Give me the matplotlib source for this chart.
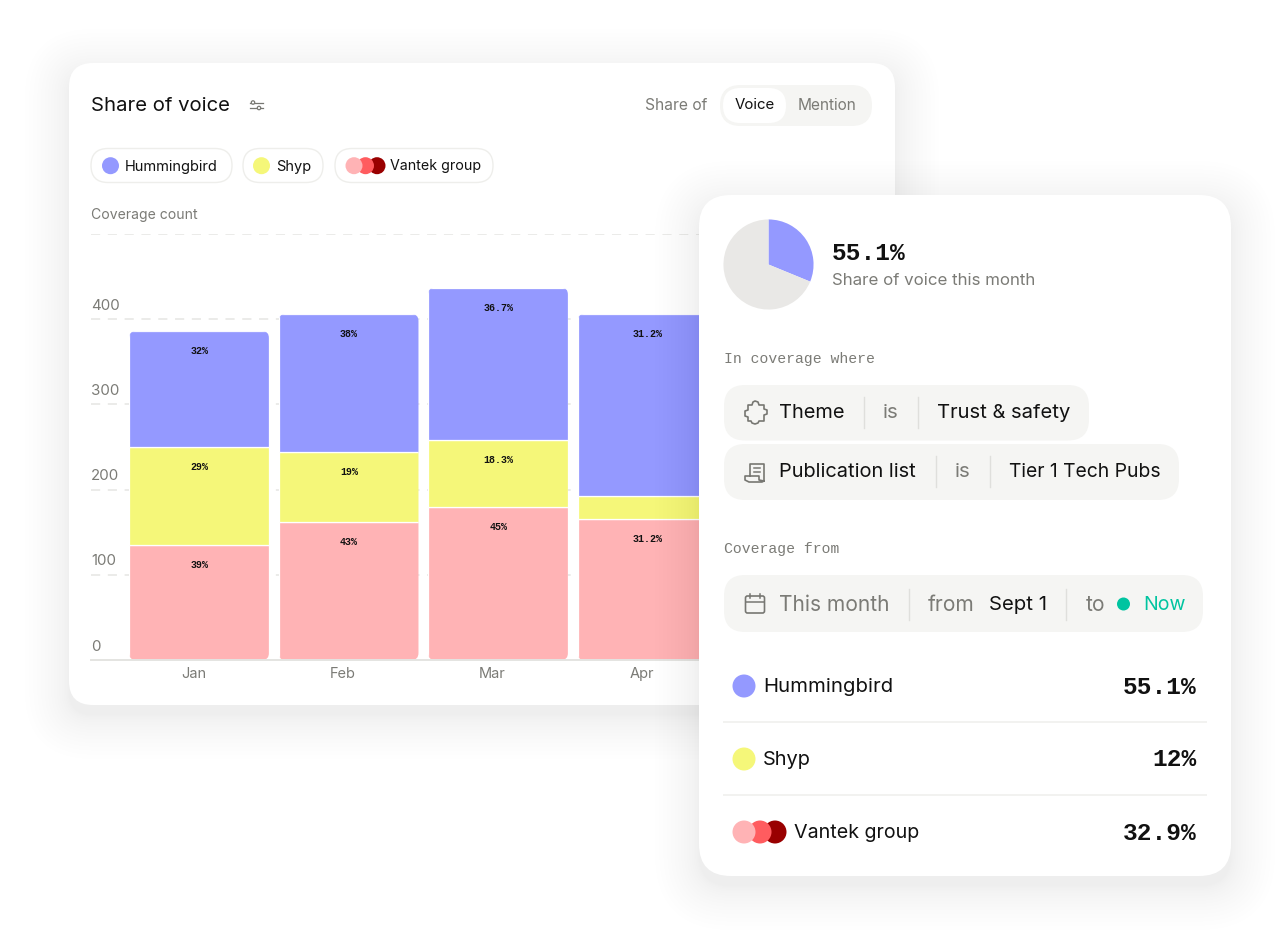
import matplotlib
matplotlib.use("Agg")
import matplotlib.pyplot as plt
from matplotlib.patches import Circle, FancyBboxPatch, Polygon
from matplotlib.transforms import IdentityTransform

# chart values
months = ["Jan", "Feb", "Mar", "Apr"]
vantek = [135, 162, 180, 165]
shyp = [115, 82, 78, 28]
hummingbird = [136, 162, 179, 213]
vantek_pct = ["39%", "43%", "45%", "31.2%"]
shyp_pct = ["29%", "19%", "18.3%", ""]
hummingbird_pct = ["32%", "38%", "36.7%", "31.2%"]
y_ticks = [0, 100, 200, 300, 400]
grid_lines = [100, 200, 300, 400, 500]
pie_values = [31.2, 68.8]
row_names = ["Hummingbird", "Shyp", "Vantek group"]
row_values = ["55.1%", "12%", "32.9%"]

BLUE = "#9499ff"
YELLOW = "#f5f779"
PINK = "#ffb3b5"
RED = "#ff5c5f"
DARK = "#990000"
INK = "#111111"
GREY = "#7b7b76"
CHIP = "#f5f5f3"
TEAL = "#00c4a0"
SANS = "Inter"
MONO = "Liberation Mono"
W, H = 1283, 932

plt.rcParams["font.family"] = SANS


def px(size):
    return size * 0.72


def full_axes(z):
    a = fig.add_axes([0, 0, 1, 1], zorder=z)
    a.set_xlim(0, W)
    a.set_ylim(H, 0)
    a.axis("off")
    a.patch.set_alpha(0)
    return a


def rbox(a, x0, y0, x1, y1, r, **kw):
    kw.setdefault("linewidth", 0)
    p = FancyBboxPatch((x0 + r, y0 + r), x1 - x0 - 2 * r, y1 - y0 - 2 * r,
                       boxstyle=f"round,pad={r},rounding_size={r}", **kw)
    a.add_patch(p)
    return p


def shadow(a, x0, y0, x1, y1, r, dy=10):
    # soft falloff: layers bunch up close to the card, each one darkens by one 8-bit level
    n = 17
    for i in range(n, 0, -1):
        g = 44 * (i / n) ** 1.7
        rbox(a, x0 - g, y0 - g + dy, x1 + g, y1 + g + dy, r + g,
             facecolor="black", alpha=0.0026)


def label(a, x, y, s, size=15, color=INK, ha="left", family=SANS, **kw):
    if family == SANS:
        y = y + size * 0.07
    a.text(x, y, s, fontsize=px(size), color=color, ha=ha, va="center",
           family=family, **kw)


def dots(a, xs, y, r, colors):
    for i, (x, c) in enumerate(zip(xs, colors)):
        a.add_patch(Circle((x, y), r, facecolor=c, linewidth=0, zorder=3 + len(xs) - i))


def sep(a, x, y):
    a.plot([x, x], [y - 15.5, y + 15.5], color="#dfdfdc", lw=1.0)


fig = plt.figure(figsize=(W / 100, H / 100), dpi=100, facecolor="white")

# back card
back = full_axes(0)
shadow(back, 69, 63, 895, 705, 24)
rbox(back, 69, 63, 895, 705, 24, facecolor="white")

label(back, 91, 105, "Share of voice", size=20.3, color=INK)
for yy, cx in [(102.5, 253), (108, 259)]:
    back.plot([250, 263], [yy, yy], color="#777772", lw=0.9)
    back.add_patch(Circle((cx, yy), 1.7, facecolor="white", edgecolor="#777772", lw=0.9, zorder=4))

label(back, 645, 104, "Share of", size=15.6, color=GREY)
rbox(back, 720, 85, 872, 126, 20.5, facecolor=CHIP)
rbox(back, 723, 88, 786, 123, 17.5, facecolor="white")
label(back, 754.5, 104, "Voice", size=15, ha="center")
label(back, 827, 104, "Mention", size=15.4, color=GREY, ha="center")

for x0, x1 in [(91, 232), (243, 323), (335, 493)]:
    rbox(back, x0, 148.5, x1, 182.5, 17, facecolor="white", edgecolor="#eeeeeb", linewidth=1.0)
dots(back, [110.5], 165.7, 8.5, [BLUE])
label(back, 125, 165.5, row_names[0], size=14.6)
dots(back, [261.5], 165.7, 8.5, [YELLOW])
label(back, 276, 165.5, row_names[1], size=14.6)
dots(back, [354, 365.5, 377], 165.7, 8.5, [PINK, RED, DARK])
label(back, 390, 165.5, row_names[2], size=14.2)
label(back, 91, 214, "Coverage count", size=14, color=GREY)

# stacked bars
ax = fig.add_axes([91 / W, 1 - 660 / H, (871 - 91) / W, 426 / H], zorder=1)
ax.patch.set_alpha(0)
step = 149.5
ax.set_xlim(-(199 - 91) / step, (871 - 199) / step)
ax.set_ylim(0, 500)
xpos = list(range(len(months)))
bw = 140 / step
for v in grid_lines:
    ax.axhline(v, color="#e6e6e3", lw=1.1, dashes=(6, 5), zorder=0)

bottoms = [0] * len(months)
stacks = [(vantek, PINK, vantek_pct), (shyp, YELLOW, shyp_pct), (hummingbird, BLUE, hummingbird_pct)]
all_bars = []
for vals, col, pct in stacks:
    bars = ax.bar(xpos, vals, bw, bottom=bottoms, color=col, edgecolor="white", linewidth=0.9, zorder=2)
    all_bars.append(bars)
    for i, v in enumerate(vals):
        top = bottoms[i] + v
        ax.annotate(pct[i], xy=(xpos[i], top), xytext=(0.4, px(-20)), textcoords="offset points",
                    ha="center", va="center", fontsize=7.2, family=MONO,
                    fontweight="bold", color=INK, zorder=3)
    bottoms = [b + v for b, v in zip(bottoms, vals)]

# rounded outer corners, clipped per column
for i, x in enumerate(xpos):
    (l, b) = ax.transData.transform((x - bw / 2, 0))
    (r, t) = ax.transData.transform((x + bw / 2, bottoms[i]))
    clip = FancyBboxPatch((l + 7, b + 7), r - l - 14, t - b - 14,
                          boxstyle="round,pad=7,rounding_size=7", transform=IdentityTransform())
    for bars in all_bars:
        bars[i].set_clip_path(clip)

for s in ["top", "right", "left"]:
    ax.spines[s].set_visible(False)
ax.spines["bottom"].set_color("#e4e4e1")
ax.spines["bottom"].set_linewidth(1.4)
ax.set_yticks([])
ax.set_xticks([x - 5.5 / step for x in xpos])
ax.set_xticklabels(months, fontsize=px(14.6), color=GREY)
ax.tick_params(axis="x", length=0, pad=px(7))
for v in y_ticks:
    off = 14.5 if v else 14
    ax.annotate(str(v), xy=(0, v), xycoords=("axes fraction", "data"), xytext=(0, px(off - 1)),
                textcoords="offset points", ha="left", va="center", fontsize=px(15), color=GREY)

# front card
top = full_axes(2)
shadow(top, 699, 195, 1231, 876, 32)
rbox(top, 699, 195, 1231, 876, 32, facecolor="white")

pie_ax = fig.add_axes([723 / W, 1 - 310 / H, 91 / W, 91 / H], zorder=3)
pie_ax.pie(pie_values, colors=[BLUE, "#e9e8e6"], startangle=90, counterclock=False, radius=1)
pie_ax.set_xlim(-1.01, 1.01)
pie_ax.set_ylim(-1.01, 1.01)

label(top, 832, 253, "55.1%", size=24.5, family=MONO, fontweight="bold")
label(top, 832, 279, "Share of voice this month", size=16.9, color=GREY)
label(top, 724, 359, "In coverage where", size=14.8, color=GREY, family=MONO)

rbox(top, 724, 385, 1089, 440.5, 21, facecolor=CHIP)
rbox(top, 724, 444, 1179, 500, 21, facecolor=CHIP)
rbox(top, 724, 575, 1203, 632, 21, facecolor=CHIP)

# puzzle icon
top.add_patch(Polygon([(748, 405), (752, 405), (753, 402), (755, 401), (758, 402), (759, 405), (764, 405),
                       (764, 409), (767, 410), (767, 414), (764, 415), (764, 421), (759, 421), (758, 423),
                       (755, 424), (752, 423), (751, 421), (748, 421), (748, 417), (745, 416), (745, 411),
                       (748, 410)],
                      closed=True, facecolor="none", edgecolor="#777772", lw=1.2, joinstyle="round"))
label(top, 779, 412, "Theme", size=20)
sep(top, 864, 412)
label(top, 890.5, 412, "is", size=20.5, color=GREY, ha="center")
sep(top, 918, 412)
label(top, 937, 412, "Trust & safety", size=20.2)

# document icon
top.plot([750, 750, 764, 764, 762, 749, 745, 745, 759, 759, 764],
         [476, 464, 464, 481, 482, 482, 480, 476, 476, 480, 481], color="#777772", lw=1.2)
top.plot([754, 760], [468, 468], color="#777772", lw=1.1)
top.plot([754, 760], [472, 472], color="#777772", lw=1.1)
label(top, 779, 471, "Publication list", size=20)
sep(top, 936, 471)
label(top, 962.5, 471, "is", size=20.5, color=GREY, ha="center")
sep(top, 990, 471)
label(top, 1009, 471, "Tier 1 Tech Pubs", size=19.3)

label(top, 724, 549, "Coverage from", size=14.8, color=GREY, family=MONO)

# calendar icon
rbox(top, 745.5, 596, 764.5, 613, 2, facecolor="none", edgecolor="#777772", linewidth=1.2)
top.plot([746, 764], [601.5, 601.5], color="#777772", lw=1.1)
top.plot([750, 750], [594, 598], color="#777772", lw=1.1)
top.plot([760, 760], [594, 598], color="#777772", lw=1.1)
label(top, 779, 604, "This month", size=21, color=GREY)
sep(top, 909, 604)
label(top, 928, 604, "from", size=21, color=GREY)
label(top, 989, 604, "Sept 1", size=20.3)
sep(top, 1066, 604)
label(top, 1086, 604, "to", size=21, color=GREY)
dots(top, [1123.5], 604, 6.5, [TEAL])
label(top, 1143, 604, "Now", size=19.5, color=TEAL)

row_y = [686, 759, 832]
dots(top, [744], row_y[0], 11.5, [BLUE])
dots(top, [744], row_y[1], 11.5, [YELLOW])
dots(top, [744, 760, 775], row_y[2], 11.5, [PINK, RED, DARK])
for name, val, y, x, s in zip(row_names, row_values, row_y, [763, 763, 794], [20.3, 20, 19.7]):
    label(top, x, y, name, size=s)
    label(top, 1197, y + 1, val, size=24.5, ha="right", family=MONO, fontweight="bold")
for y in [722, 795]:
    top.plot([724, 1206], [y, y], color="#f2f2f0", lw=1.4)

fig.savefig("out.png", dpi=100)
